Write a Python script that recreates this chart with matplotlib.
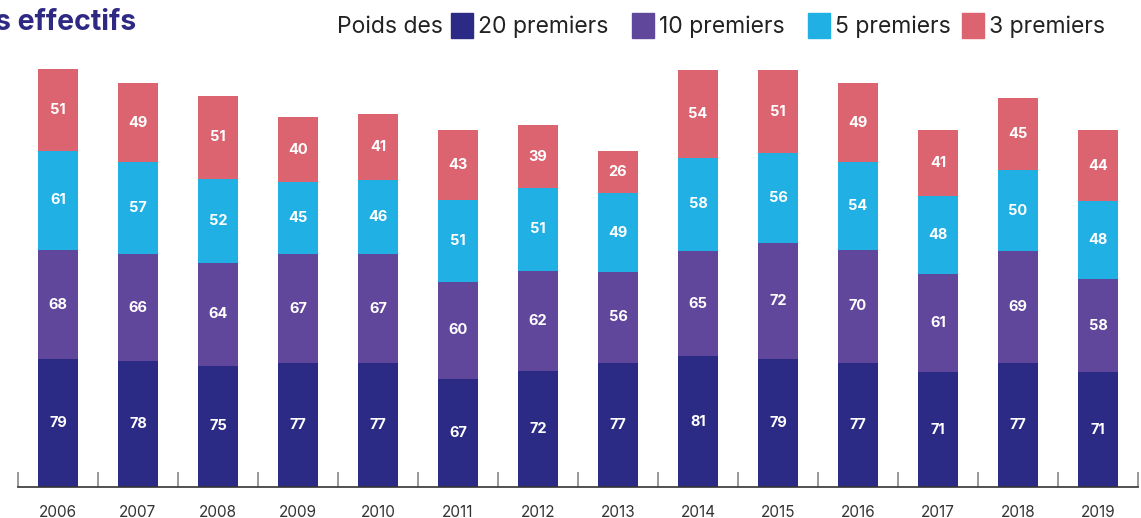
import numpy as np
import matplotlib.pyplot as plt
from matplotlib.patches import Rectangle

years = ['2006', '2007', '2008', '2009', '2010', '2011', '2012',
         '2013', '2014', '2015', '2016', '2017', '2018', '2019']
top20 = [79, 78, 75, 77, 77, 67, 72, 77, 81, 79, 77, 71, 77, 71]
top10 = [68, 66, 64, 67, 67, 60, 62, 56, 65, 72, 70, 61, 69, 58]
top5 = [61, 57, 52, 45, 46, 51, 51, 49, 58, 56, 54, 48, 50, 48]
top3 = [51, 49, 51, 40, 41, 43, 39, 26, 54, 51, 49, 41, 45, 44]
series_labels = ['20 premiers', '10 premiers', '5 premiers', '3 premiers']
colors = ['#2b2a84', '#61479c', '#20b0e4', '#dc6470']

plt.rcParams['font.family'] = ['Inter', 'DejaVu Sans']

fig = plt.figure(figsize=(11.41, 5.18), dpi=100)
ax = fig.add_axes([18 / 1141, 31 / 518, 1120 / 1141, 436 / 518])

x = np.arange(len(years))
bottom = np.zeros(len(years))
for vals, col in zip([top20, top10, top5, top3], colors):
    vals = np.array(vals)
    ax.bar(x, vals, bottom=bottom, width=0.49, color=col)
    for xi, b, v in zip(x, bottom, vals):
        ax.text(xi, b + v / 2, str(v), ha='center', va='center',
                color='white', fontsize=10.5, fontweight='bold')
    bottom += vals

ax.set_xlim(-0.5, len(years) - 0.5)
ax.set_ylim(0, 270)
ax.set_yticks([])
for s in ['top', 'right', 'left']:
    ax.spines[s].set_visible(False)
ax.spines['bottom'].set_color('#333333')
ax.spines['bottom'].set_linewidth(1.2)

ax.set_xticks(x)
ax.set_xticklabels(years, fontsize=11, color='#333333')
ax.tick_params(axis='x', which='major', length=0, pad=13)
ax.set_xticks(np.arange(-0.5, len(years)), minor=True)
ax.tick_params(axis='x', which='minor', direction='in', length=11,
               width=1.2, color='#888888')

# titre coupé à gauche
fig.text(-0.004, 1 - 23 / 518, 's effectifs', fontsize=20.5, fontweight='bold',
         color='#2e2a84', ha='left', va='center')

# légende
fig.text(337 / 1141, 1 - 27 / 518, 'Poids des', fontsize=16.5, color='#222222',
         ha='left', va='center')
sq_x = [451, 632, 808, 962]
for px, lab, col in zip(sq_x, series_labels, colors):
    fig.add_artist(Rectangle((px / 1141, 1 - 38 / 518), 22 / 1141, 25 / 518,
                             transform=fig.transFigure, color=col))
    fig.text((px + 27) / 1141, 1 - 27 / 518, lab, fontsize=16.5,
             color='#222222', ha='left', va='center')

fig.savefig('out.png', dpi=100)
